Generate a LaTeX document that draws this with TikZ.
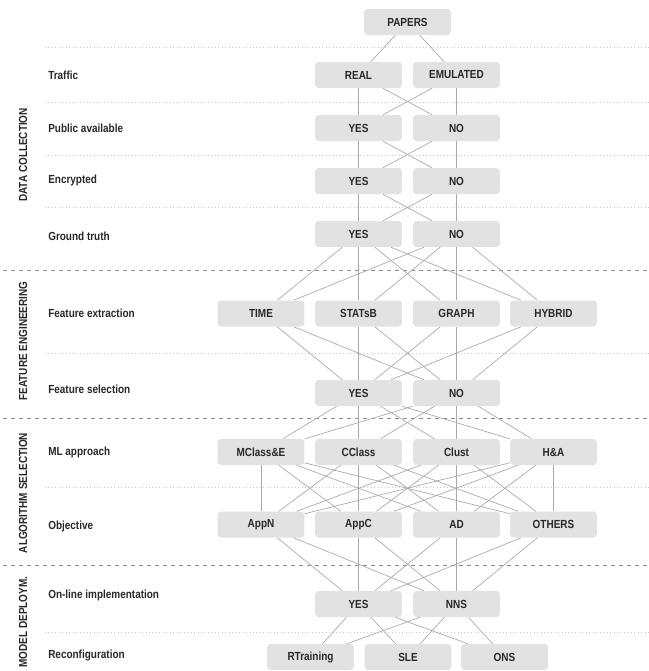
\documentclass[tikz,border=0pt]{standalone}
\usepackage{fontspec}
\setmainfont{Liberation Sans}[FakeStretch=0.85]
\definecolor{boxgray}{RGB}{226,226,226}
\definecolor{linkgray}{RGB}{168,168,168}
\definecolor{sepgray}{RGB}{140,140,140}
\definecolor{dotgray}{RGB}{200,200,200}
\definecolor{txtgray}{RGB}{40,40,40}

\begin{document}
\begin{tikzpicture}[x=0.75pt, y=-0.75pt,
  box/.style={fill=boxgray, rounded corners=2.5pt, minimum width=65pt,
    minimum height=19.5pt, inner sep=0pt, text=txtgray,
    font=\fontsize{8.8}{10}\selectfont\bfseries},
  rowlabel/.style={anchor=west, inner sep=0pt, text=txtgray,
    font=\fontsize{8.8}{10}\selectfont\bfseries},
  grouplabel/.style={rotate=90, inner sep=0pt, text=txtgray,
    font=\fontsize{8.8}{10}\selectfont\bfseries},
  link/.style={linkgray, line width=0.5pt},
  sepline/.style={sepgray, dashed, line width=0.5pt},
  subline/.style={dotgray, dotted, line width=0.6pt}]

  \useasboundingbox (0,0) rectangle (649,671);

  % --- separators ---
  \foreach \y in {270,418,565}
    \draw[sepline] (3,\y) -- (649,\y);
  \foreach \y in {47,102,155,207,353,487,632}
    \draw[subline] (45,\y) -- (649,\y);

  % --- stage labels ---
  \node[grouplabel] at (23,155) {DATA COLLECTION};
  \node[grouplabel] at (23,341) {FEATURE ENGINEERING};
  \node[grouplabel] at (23,493) {ALGORITHM SELECTION};
  \node[grouplabel] at (23,622) {MODEL DEPLOYM.};

  % --- row labels ---
  \foreach \y/\lbl in {75/Traffic, 128/Public available, 180/Encrypted,
    236/Ground truth, 313/Feature extraction, 389/Feature selection,
    452/ML approach, 526/Objective, 595/On-line implementation,
    655/Reconfiguration}
    \node[rowlabel] at (48,\y) {\lbl};

  % --- boxes ---
  \node[box] (pap) at (407.5,22) {PAPERS};

  \node[box] (trR) at (358.5,75) {REAL};
  \node[box] (trE) at (456.5,75) {EMULATED};

  \node[box] (puY) at (358.5,128) {YES};
  \node[box] (puN) at (456.5,128) {NO};

  \node[box] (enY) at (358.5,181) {YES};
  \node[box] (enN) at (456.5,181) {NO};

  \node[box] (gtY) at (358.5,234) {YES};
  \node[box] (gtN) at (456.5,234) {NO};

  \node[box] (fx1) at (261,313.5) {TIME};
  \node[box] (fx2) at (358.5,313.5) {STATsB};
  \node[box] (fx3) at (456.5,313.5) {GRAPH};
  \node[box] (fx4) at (553.5,313.5) {HYBRID};

  \node[box] (fsY) at (358.5,393) {YES};
  \node[box] (fsN) at (456.5,393) {NO};

  \node[box] (ml1) at (261,452) {MClass\&E};
  \node[box] (ml2) at (358.5,452) {CClass};
  \node[box] (ml3) at (456.5,452) {Clust};
  \node[box] (ml4) at (553.5,452) {H\&A};

  \node[box] (ob1) at (261,524.5) {AppN};
  \node[box] (ob2) at (358.5,524.5) {AppC};
  \node[box] (ob3) at (456.5,524.5) {AD};
  \node[box] (ob4) at (553.5,524.5) {OTHERS};

  \node[box] (onY) at (358.5,604) {YES};
  \node[box] (onN) at (456.5,604) {NNS};

  \node[box] (rc1) at (310.5,657) {RTraining};
  \node[box] (rc2) at (408,657) {SLE};
  \node[box] (rc3) at (504.5,657) {ONS};

  % --- connectors, every box to every box of the next row ---
  \foreach \b in {trR,trE}
    \draw[link] (pap) -- (\b);
  \foreach \a/\b in {trR/puY,trR/puN,trE/puY,trE/puN,
                     puY/enY,puY/enN,puN/enY,puN/enN,
                     enY/gtY,enY/gtN,enN/gtY,enN/gtN}
    \draw[link] (\a) -- (\b);
  \foreach \a in {gtY,gtN}
    \foreach \b in {fx1,fx2,fx3,fx4}
      \draw[link] (\a) -- (\b);
  \foreach \a in {fx1,fx2,fx3,fx4}
    \foreach \b in {fsY,fsN}
      \draw[link] (\a) -- (\b);
  \foreach \a in {fsY,fsN}
    \foreach \b in {ml1,ml2,ml3,ml4}
      \draw[link] (\a) -- (\b);
  \foreach \a in {ml1,ml2,ml3,ml4}
    \foreach \b in {ob1,ob2,ob3,ob4}
      \draw[link] (\a) -- (\b);
  \foreach \a in {ob1,ob2,ob3,ob4}
    \foreach \b in {onY,onN}
      \draw[link] (\a) -- (\b);
  \foreach \a in {onY,onN}
    \foreach \b in {rc1,rc2,rc3}
      \draw[link] (\a) -- (\b);

\end{tikzpicture}
\end{document}
